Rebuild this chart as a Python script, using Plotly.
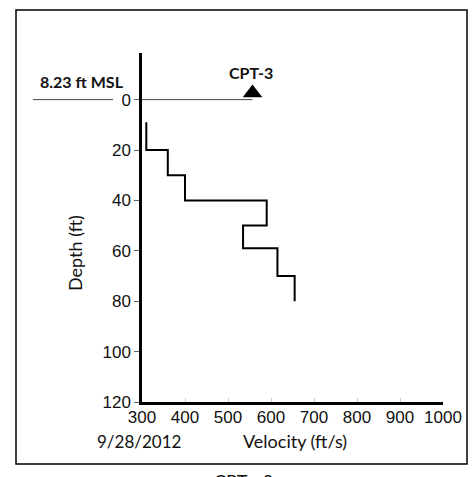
import plotly.graph_objects as go

# Data
velocity = [310, 310, 360, 360, 400, 400, 590, 590, 535, 535, 615, 615, 655, 655]
depth =    [9,   20,  20,  30,  30,  40,  40,  50,  50,  59,  59,  70,  70,  80]
site_velocity = [557]
site_depth = [-2.6]
site_label = "CPT-3"
x_ticks = [300, 400, 500, 600, 700, 800, 900, 1000]
y_ticks = [0, 20, 40, 60, 80, 100, 120]

W, H = 475, 477
L, R, T, B = 142, 443, 53, 402  # plot area in pixels

def px(x):
    return (x - L) / (R - L)

def py(y):
    return (B - y) / (B - T)

fig = go.Figure()
fig.add_trace(go.Scatter(x=velocity, y=depth, mode="lines",
                         line=dict(color="black", width=2), showlegend=False,
                         hoverinfo="skip"))
fig.add_trace(go.Scatter(x=site_velocity, y=site_depth, mode="markers",
                         marker=dict(symbol="triangle-up", size=17, color="black"),
                         showlegend=False, hoverinfo="skip"))

tickfont = dict(family="Liberation Sans, Arial", size=17, color="#111")
fig.update_layout(
    width=W, height=H,
    margin=dict(l=L, r=W - R, t=T, b=H - B, pad=0),
    paper_bgcolor="white", plot_bgcolor="white",
    xaxis=dict(range=[300, 1000], tickvals=x_ticks, showgrid=False, zeroline=False,
               showline=True, linecolor="black", linewidth=2.5,
               ticks="inside", ticklen=4, tickcolor="#ccc", tickfont=tickfont,
               ticklabelstandoff=-2),
    yaxis=dict(range=[120, -18.5], tickvals=y_ticks, showgrid=False, zeroline=False,
               showline=True, linecolor="black", linewidth=2.5,
               ticks="outside", ticklen=5, tickcolor="#666", tickfont=tickfont),
)

# MSL line
fig.add_shape(type="line", xref="paper", yref="y", x0=px(33), x1=px(113), y0=0, y1=0,
              line=dict(color="#444", width=1))
fig.add_shape(type="line", xref="x", yref="y", x0=300, x1=site_velocity[0], y0=0, y1=0,
              line=dict(color="#444", width=1))
# Border
fig.add_shape(type="rect", xref="paper", yref="paper", x0=px(16), x1=px(467),
              y0=py(464), y1=py(10), line=dict(color="black", width=1.5))

afont = dict(family="Lato", size=18, color="#111")
bfont = dict(family="Lato", size=16, color="#111")
ann = [
    dict(text="<b>8.23 ft MSL</b>", x=px(82), y=py(82), font=bfont),
    dict(text="<b>" + site_label + "</b>", x=px(251), y=py(72), font=bfont),
    dict(text="Depth (ft)", x=px(75), y=py(253), textangle=-90, font=afont),
    dict(text="Velocity (ft/s)", x=px(295), y=py(441), font=afont),
    dict(text="9/28/2012", x=px(139), y=py(441), font=dict(family="Lato", size=17, color="#111")),
    dict(text="CPT - 3", x=px(243), y=py(481), font=afont),
]
for a in ann:
    fig.add_annotation(xref="paper", yref="paper", showarrow=False,
                       xanchor="center", yanchor="middle", **a)

fig.write_html("out.html", config={"displayModeBar": False},
               post_script="document.body.style.margin='0';document.body.style.overflow='hidden';")
